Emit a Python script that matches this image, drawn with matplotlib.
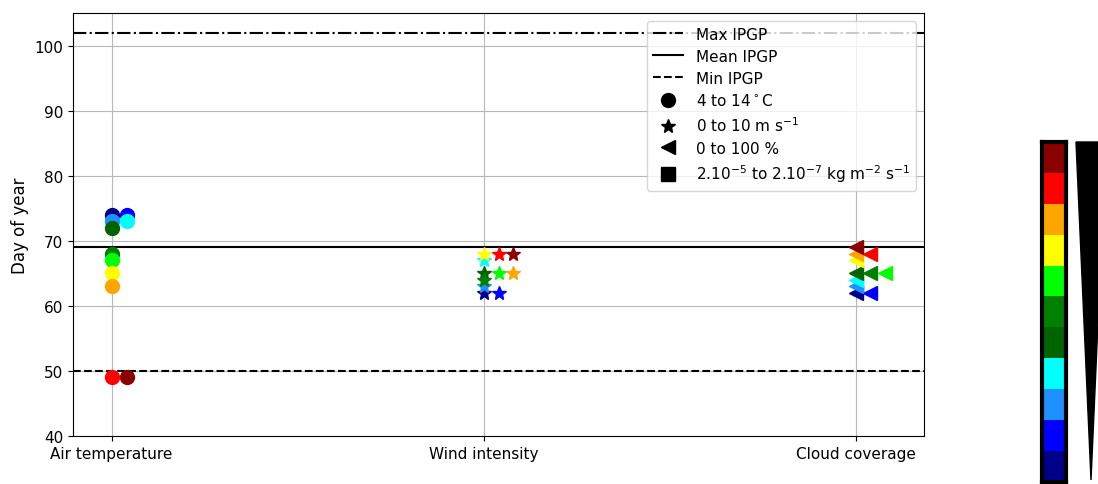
import matplotlib
matplotlib.use("Agg")
import matplotlib.pyplot as plt
from matplotlib.lines import Line2D
from matplotlib.patches import Polygon
from matplotlib.colors import ListedColormap
import numpy as np

plt.rcParams["font.size"] = 11

# Variables on the x axis
variables = ["Air temperature", "Wind intensity", "Cloud coverage"]
markers = ["o", "*", "<"]

# Colour classes, from the lowest to the highest value
class_colors = ["darkblue", "blue", "dodgerblue", "cyan", "darkgreen", "green",
                "lime", "yellow", "orange", "red", "darkred"]

# Day of year of the IPGP onset for each class
temp_days = [74, 74, 73, 73, 72, 68, 67, 65, 63, 49, 49]
wind_days = [62, 62, 63, 67, 65, 64, 65, 68, 65, 68, 68]
cloud_days = [62, 62, 63, 64, 65, 65, 65, 67, 68, 68, 69]

# Reference IPGP days
ipgp_max = 102
ipgp_mean = 69
ipgp_min = 50

legend_labels = ["Max IPGP", "Mean IPGP", "Min IPGP",
                 r"4 to 14$^\circ$C", r"0 to 10 m s$^{-1}$", "0 to 100 %",
                 r"2.10$^{-5}$ to 2.10$^{-7}$ kg m$^{-2}$ s$^{-1}$"]

fig = plt.figure(figsize=(10.98, 4.85), dpi=100)
ax = fig.add_axes([73 / 1098, 48 / 485, 851 / 1098, 423 / 485])

dodge = 0.04
for i, days in enumerate([temp_days, wind_days, cloud_days]):
    seen = {}
    for color, d in zip(class_colors, days):
        k = seen.get(d, 0)
        seen[d] = k + 1
        ax.plot(i + k * dodge, d, marker=markers[i], color=color,
                markersize=10, linestyle="none", zorder=3)

ax.axhline(ipgp_max, color="k", linestyle="-.", linewidth=1.5, zorder=2)
ax.axhline(ipgp_mean, color="k", linestyle="-", linewidth=1.5, zorder=2)
ax.axhline(ipgp_min, color="k", linestyle="--", linewidth=1.5, zorder=2)

ax.set_ylim(40, 105)
ax.set_yticks(np.arange(40, 101, 10))
ax.set_xticks(range(len(variables)))
ax.set_xticklabels(variables)
ax.set_ylabel("Day of year", fontsize=12)
ax.grid(True, color="#b8b8b8", linewidth=0.8)
ax.set_axisbelow(True)

handles = [
    Line2D([], [], color="k", linestyle="-.", linewidth=1.5),
    Line2D([], [], color="k", linestyle="-", linewidth=1.5),
    Line2D([], [], color="k", linestyle="--", linewidth=1.5),
    Line2D([], [], color="k", marker="o", linestyle="none", markersize=10),
    Line2D([], [], color="k", marker="*", linestyle="none", markersize=10),
    Line2D([], [], color="k", marker="<", linestyle="none", markersize=10),
    Line2D([], [], color="k", marker="s", linestyle="none", markersize=10),
]
ax.legend(handles, legend_labels, loc="upper right", labelspacing=0.45)

# Colour scale of the classes
cax = fig.add_axes([1042 / 1098, 2 / 485, 24 / 1098, 340 / 485])
cax.imshow(np.arange(len(class_colors))[::-1].reshape(-1, 1),
           cmap=ListedColormap(class_colors), aspect="auto",
           interpolation="nearest")
cax.set_xticks([])
cax.set_yticks([])
for sp in cax.spines.values():
    sp.set_linewidth(3)
    sp.set_color("k")

# Wedge showing the direction of increasing value
wedge = Polygon([(1076 / 1098, 342 / 485), (1106 / 1098, 342 / 485),
                 (1091 / 1098, 4 / 485)], closed=True, facecolor="k",
                edgecolor="k", transform=fig.transFigure, clip_on=False)
fig.patches.append(wedge)

fig.savefig("out.png", dpi=100)
